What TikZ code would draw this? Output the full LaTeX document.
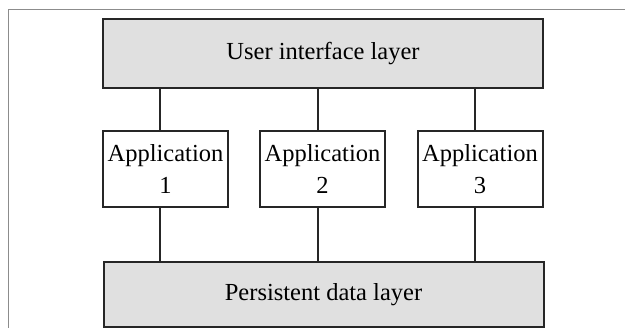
\documentclass[tikz,border=0pt]{standalone}
\usepackage{fontspec}
\setmainfont{Liberation Serif}
\begin{document}
\begin{tikzpicture}[x=1pt,y=1pt,
  layerbox/.style={draw=black!85, line width=2pt, fill=black!12,
    minimum width=440pt, inner sep=0pt, font=\fontsize{24.5}{29}\selectfont},
  appbox/.style={draw=black!85, line width=2pt, fill=white,
    minimum width=125pt, minimum height=76pt, inner sep=0pt, align=center,
    font=\fontsize{24.5}{32}\selectfont},
  link/.style={draw=black!85, line width=2pt},
  frame/.style={draw=black!45, line width=1pt}]
  \useasboundingbox (0,0) rectangle (625,328);

  % thin frame along the top and left edges
  \coordinate (fl) at (8,0);
  \coordinate (ftl) at (8,318);
  \coordinate (ftr) at (625,318);
  \draw[frame] (fl) -- (ftl) -- (ftr);

  % layers
  \node[layerbox, minimum height=69pt] (ui) at (323,274.5) {User interface layer};
  \node[layerbox, minimum height=65pt] (data) at (323.5,33.5) {Persistent data layer};

  % applications
  \node[appbox] (a1) at (165.5,159) {Application\\1};
  \node[appbox] (a2) at (322.5,159) {Application\\2};
  \node[appbox] (a3) at (480,159) {Application\\3};

  % connectors
  \foreach \n/\dx in {a1/-5.5,a2/-4.5,a3/-5} {
    \draw[link] ([xshift=\dx pt]\n.north) -- ([xshift=\dx pt]\n.north |- ui.south);
    \draw[link] ([xshift=\dx pt]\n.south) -- ([xshift=\dx pt]\n.south |- data.north);
  }
\end{tikzpicture}
\end{document}
